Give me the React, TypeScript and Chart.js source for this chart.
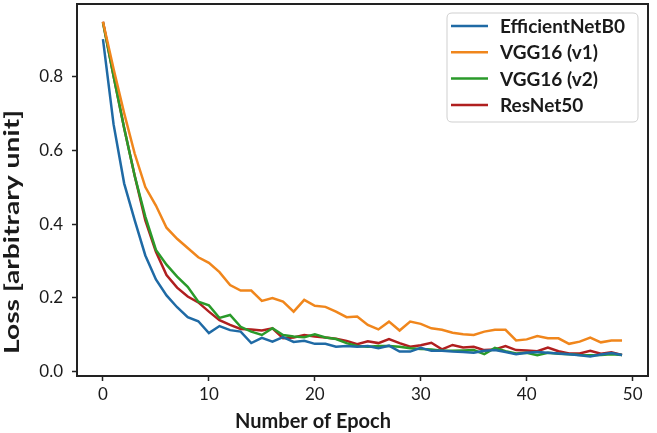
import React, { useEffect, useRef } from "react";
import { Chart, registerables } from "chart.js";

Chart.register(...registerables);

const epochs: number[] = Array.from({ length: 50 }, (_, i) => i);

const efficientNetB0: number[] = [
  0.9, 0.67, 0.51, 0.41, 0.315, 0.25, 0.207, 0.175, 0.148, 0.137,
  0.105, 0.124, 0.113, 0.109, 0.078, 0.092, 0.082, 0.094, 0.081, 0.084,
  0.076, 0.076, 0.068, 0.07, 0.068, 0.07, 0.064, 0.071, 0.055, 0.055,
  0.065, 0.057, 0.057, 0.055, 0.054, 0.052, 0.057, 0.059, 0.054, 0.048,
  0.052, 0.054, 0.052, 0.05, 0.048, 0.045, 0.042, 0.047, 0.051, 0.046,
];

const vgg16v1: number[] = [
  0.947, 0.82, 0.7, 0.59, 0.5, 0.45, 0.39, 0.36, 0.335, 0.31,
  0.295, 0.27, 0.235, 0.22, 0.22, 0.192, 0.2, 0.19, 0.163, 0.195,
  0.179, 0.176, 0.163, 0.148, 0.15, 0.127, 0.115, 0.136, 0.112, 0.136,
  0.13, 0.118, 0.114, 0.106, 0.102, 0.1, 0.109, 0.114, 0.114, 0.085,
  0.088, 0.097, 0.091, 0.091, 0.076, 0.082, 0.093, 0.08, 0.085, 0.085,
];

const vgg16v2: number[] = [
  0.945, 0.8, 0.66, 0.53, 0.42, 0.33, 0.29, 0.258, 0.23, 0.19,
  0.18, 0.146, 0.154, 0.122, 0.109, 0.1, 0.118, 0.1, 0.096, 0.094,
  0.102, 0.093, 0.089, 0.078, 0.07, 0.068, 0.07, 0.07, 0.068, 0.064,
  0.062, 0.061, 0.057, 0.057, 0.058, 0.059, 0.048, 0.065, 0.056, 0.05,
  0.052, 0.045, 0.052, 0.049, 0.048, 0.046, 0.045, 0.046, 0.048, 0.046,
];

const resNet50: number[] = [
  0.947, 0.8, 0.66, 0.53, 0.41, 0.325, 0.262, 0.228, 0.204, 0.188,
  0.163, 0.14, 0.127, 0.116, 0.115, 0.112, 0.118, 0.091, 0.093, 0.1,
  0.096, 0.093, 0.09, 0.084, 0.075, 0.083, 0.078, 0.089, 0.078, 0.068,
  0.072, 0.079, 0.061, 0.073, 0.066, 0.068, 0.059, 0.061, 0.07, 0.059,
  0.058, 0.056, 0.066, 0.056, 0.05, 0.05, 0.057, 0.049, 0.053, 0.046,
];

const seriesNames: string[] = ["EfficientNetB0", "VGG16 (v1)", "VGG16 (v2)", "ResNet50"];
const seriesColors: string[] = ["#1f6aa5", "#f0861c", "#2a9a2a", "#b01f1f"];
const xTickValues: number[] = [0, 10, 20, 30, 40, 50];
const yTickValues: number[] = [0, 0.2, 0.4, 0.6, 0.8];
const xTitle = "Number of Epoch";
const yTitle = "Loss [arbitrary unit]";

const FONT = "Lato, 'Open Sans', 'DejaVu Sans', sans-serif";
const INK = "#1a1a1a";

const framePlugin = {
  id: "frame",
  afterDatasetsDraw(chart: any) {
    const { ctx, chartArea } = chart;
    ctx.save();
    ctx.strokeStyle = "#222";
    ctx.lineWidth = 2;
    ctx.strokeRect(chartArea.left, chartArea.top, chartArea.right - chartArea.left, chartArea.bottom - chartArea.top);
    ctx.restore();
  },
};

const legendPlugin = {
  id: "customLegend",
  afterDraw(chart: any) {
    const { ctx } = chart;
    const bx = 447, by = 13, bw = 191, bh = 109, r = 5;
    ctx.save();
    ctx.beginPath();
    ctx.moveTo(bx + r, by);
    ctx.lineTo(bx + bw - r, by);
    ctx.quadraticCurveTo(bx + bw, by, bx + bw, by + r);
    ctx.lineTo(bx + bw, by + bh - r);
    ctx.quadraticCurveTo(bx + bw, by + bh, bx + bw - r, by + bh);
    ctx.lineTo(bx + r, by + bh);
    ctx.quadraticCurveTo(bx, by + bh, bx, by + bh - r);
    ctx.lineTo(bx, by + r);
    ctx.quadraticCurveTo(bx, by, bx + r, by);
    ctx.closePath();
    ctx.fillStyle = "rgba(255,255,255,0.9)";
    ctx.fill();
    ctx.strokeStyle = "#cfcfcf";
    ctx.lineWidth = 1;
    ctx.stroke();
    chart.data.datasets.forEach((ds: any, i: number) => {
      const y = 26 + i * 26.3;
      ctx.beginPath();
      ctx.moveTo(451, y);
      ctx.lineTo(488, y);
      ctx.strokeStyle = ds.borderColor;
      ctx.lineWidth = 2.5;
      ctx.stroke();
      ctx.fillStyle = INK;
      ctx.font = `bold 19px ${FONT}`;
      ctx.textBaseline = "middle";
      ctx.textAlign = "left";
      ctx.fillText(ds.label, 500, y + 1);
    });
    ctx.restore();
  },
};

const axisTitlePlugin = {
  id: "axisTitles",
  afterDraw(chart: any) {
    const { ctx } = chart;
    ctx.save();
    ctx.fillStyle = INK;
    ctx.font = `bold 20px ${FONT}`;
    ctx.textAlign = "center";
    ctx.textBaseline = "middle";
    ctx.fillText(xTitle, 313, 422);
    ctx.translate(13, 232);
    ctx.rotate(-Math.PI / 2);
    const w = ctx.measureText(yTitle).width;
    const sx = Math.min(1.5, Math.max(1, 244 / w));
    ctx.scale(sx, 1);
    ctx.fillText(yTitle, 0, 0);
    ctx.restore();
  },
};

export default function App() {
  const canvasRef = useRef<HTMLCanvasElement | null>(null);

  useEffect(() => {
    const canvas = canvasRef.current;
    if (!canvas) return;
    const allSeries = [efficientNetB0, vgg16v1, vgg16v2, resNet50];
    const chart = new Chart(canvas, {
      type: "line",
      data: {
        datasets: allSeries.map((vals, i) => ({
          label: seriesNames[i],
          data: vals.map((v, j) => ({ x: epochs[j], y: v })),
          borderColor: seriesColors[i],
          backgroundColor: seriesColors[i],
          borderWidth: 2.5,
          pointRadius: 0,
          tension: 0,
          fill: false,
        })),
      },
      options: {
        responsive: false,
        animation: false,
        devicePixelRatio: 1,
        layout: { padding: { left: 0, right: 9, top: 4, bottom: 0 } },
        plugins: {
          legend: { display: false },
          tooltip: { enabled: false },
        },
        scales: {
          x: {
            type: "linear",
            min: -2.45,
            max: 51.45,
            afterBuildTicks: (scale: any) => {
              scale.ticks = xTickValues.map((v) => ({ value: v }));
            },
            afterFit: (scale: any) => {
              scale.height = 57;
              scale.paddingLeft = 0;
              scale.paddingRight = 0;
            },
            ticks: {
              color: INK,
              font: { family: FONT, size: 17 },
              padding: 3,
              maxRotation: 0,
              autoSkip: false,
              callback: (v: any) => String(v),
            },
            grid: {
              display: true,
              drawOnChartArea: false,
              drawTicks: true,
              tickLength: 5,
              tickColor: "#222",
              tickWidth: 1.5,
            },
            border: { display: true, color: "#222", width: 2 },
          },
          y: {
            type: "linear",
            min: -0.011,
            max: 0.995,
            afterBuildTicks: (scale: any) => {
              scale.ticks = yTickValues.map((v) => ({ value: v }));
            },
            afterFit: (scale: any) => {
              scale.width = 77;
              scale.paddingTop = 0;
              scale.paddingBottom = 0;
            },
            ticks: {
              color: INK,
              font: { family: FONT, size: 17 },
              padding: 9,
              autoSkip: false,
              callback: (v: any) => Number(v).toFixed(1),
            },
            grid: {
              display: true,
              drawOnChartArea: false,
              drawTicks: true,
              tickLength: 5,
              tickColor: "#222",
              tickWidth: 1.5,
            },
            border: { display: true, color: "#222", width: 2 },
          },
        },
      },
      plugins: [framePlugin, axisTitlePlugin, legendPlugin],
    } as any);
    return () => chart.destroy();
  }, []);

  return (
    <div style={{ position: "fixed", left: 0, top: 0, width: 657, height: 433, background: "#fff" }}>
      <canvas ref={canvasRef} width={657} height={433} style={{ width: 657, height: 433, display: "block" }} />
    </div>
  );
}
